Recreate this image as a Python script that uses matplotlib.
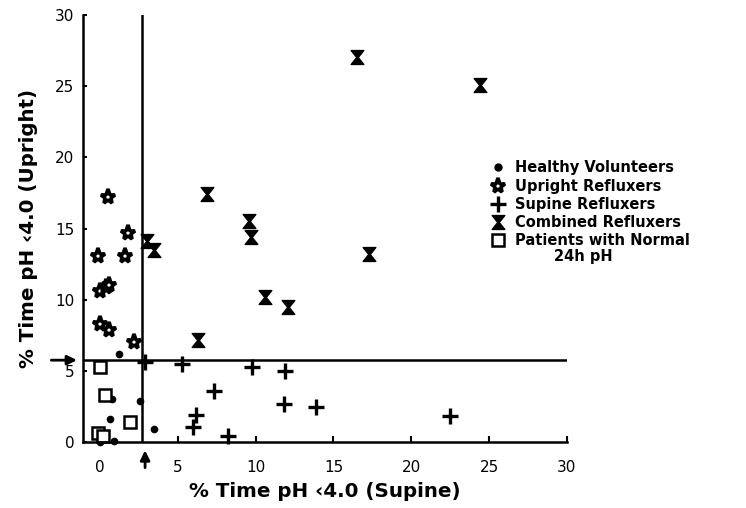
import numpy as np
import matplotlib.pyplot as plt
from matplotlib.path import Path
from matplotlib.lines import Line2D

plt.rcParams['font.family'] = ['DejaVu Sans']

# healthy volunteers (supine %, upright %)
healthy_x = [1.2, 2.6, 3.5, 0.65, 0.8, 0.0, 0.2, 0.9, 0.0]
healthy_y = [6.2, 2.9, 0.9, 1.6, 3.0, 0.2, 0.5, 0.05, 0.0]

upright_x = [0.5, 1.8, -0.1, 1.6, 0.0, 0.4, 0.6, 0.0, 0.6, 2.2]
upright_y = [17.2, 14.7, 13.1, 13.1, 10.6, 10.9, 11.0, 8.3, 7.9, 7.0]

supine_x = [2.9, 5.3, 9.8, 11.9, 7.3, 11.8, 13.9, 6.2, 6.0, 8.2, 22.5]
supine_y = [5.6, 5.5, 5.25, 5.0, 3.6, 2.7, 2.45, 1.9, 1.05, 0.4, 1.8]

combined_x = [16.5, 24.4, 6.9, 9.6, 9.7, 3.0, 3.5, 17.3, 10.6, 12.1, 6.3]
combined_y = [27.05, 25.1, 17.4, 15.5, 14.4, 14.1, 13.5, 13.2, 10.2, 9.5, 7.2]

normal_x = [0.0, 0.3, 1.9, -0.1, 0.2]
normal_y = [5.3, 3.3, 1.4, 0.6, 0.4]

supine_cut = 2.7
upright_cut = 5.75

# hourglass marker
hourglass = Path([(-1, 1.1), (1, 1.1), (0.12, 0), (1, -1.1), (-1, -1.1), (-0.12, 0), (-1, 1.1)],
                 [Path.MOVETO] + [Path.LINETO] * 5 + [Path.CLOSEPOLY])

fig = plt.figure(figsize=(7.46, 5.08), dpi=100)
ax = fig.add_axes([0.111, 0.130, 0.649, 0.840])

ax.plot(healthy_x, healthy_y, 'o', color='black', ms=4.5, clip_on=False)
ax.plot(upright_x, upright_y, '*', mfc='white', mec='black', mew=2.6, ms=11, clip_on=False)
ax.plot(supine_x, supine_y, '+', color='black', mew=2.4, ms=11, clip_on=False)
ax.plot(combined_x, combined_y, marker=hourglass, ls='none', color='black', ms=10, clip_on=False)
ax.plot(normal_x, normal_y, 's', mfc='white', mec='black', mew=1.8, ms=8, clip_on=False)

ax.axvline(supine_cut, color='black', lw=1.8)
ax.axhline(upright_cut, color='black', lw=1.8)

ax.set_xlim(-1.1, 30)
ax.set_ylim(0, 30)
ax.spines['top'].set_visible(False)
ax.spines['right'].set_visible(False)
ax.spines['left'].set_linewidth(1.8)
ax.spines['bottom'].set_linewidth(1.8)
ax.set_xticks(np.arange(0, 31, 5))
ax.set_yticks(np.arange(0, 31, 5))
ax.tick_params(axis='x', direction='in', length=4, width=1.5, pad=13, labelsize=11)
ax.tick_params(axis='y', direction='in', length=3, width=1.5, pad=6, labelsize=11)

ax.set_xlabel('% Time pH \u20394.0 (Supine)', fontsize=14.3, fontweight='bold', labelpad=5)
ax.set_ylabel('% Time pH \u20394.0 (Upright)', fontsize=14.3, fontweight='bold')
ax.yaxis.set_label_coords(-0.093, 0.5)

# cut-off arrows
ax.annotate('', xy=(-1.3, upright_cut), xytext=(-3.3, upright_cut), annotation_clip=False,
            arrowprops=dict(arrowstyle='-|>', color='black', lw=2, mutation_scale=14))
ax.annotate('', xy=(2.9, -0.4), xytext=(2.9, -2.0), annotation_clip=False,
            arrowprops=dict(arrowstyle='-|>', color='black', lw=2, mutation_scale=14))

handles = [
    Line2D([], [], ls='none', marker='o', color='black', ms=5),
    Line2D([], [], ls='none', marker='*', mfc='white', mec='black', mew=2.6, ms=11),
    Line2D([], [], ls='none', marker='+', color='black', mew=2.4, ms=11),
    Line2D([], [], ls='none', marker=hourglass, color='black', ms=10),
    Line2D([], [], ls='none', marker='s', mfc='white', mec='black', mew=1.8, ms=8),
]
labels = ['Healthy Volunteers', 'Upright Refluxers', 'Supine Refluxers',
          'Combined Refluxers', 'Patients with Normal']
leg = fig.legend(handles, labels, loc='upper left', bbox_to_anchor=(0.64, 0.71),
                 frameon=False, handlelength=1.0, handletextpad=0.7, labelspacing=0.22,
                 prop={'weight': 'bold', 'size': 10.5})
fig.text(0.742, 0.496, '24h pH', fontsize=10.5, fontweight='bold', va='center')

fig.savefig('out.png', dpi=100)
